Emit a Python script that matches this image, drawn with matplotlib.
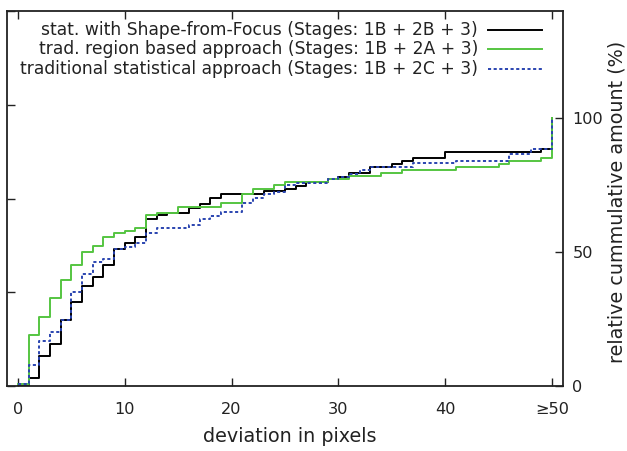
import matplotlib
matplotlib.use('Agg')
import matplotlib.pyplot as plt

# deviation in pixels (50 stands for ">= 50")
deviation = list(range(51))

# relative cumulative amount (%) per method, value holds from x to x+1
sff = [0.0, 3.1, 11.3, 15.7, 24.6, 31.5, 37.3, 40.8, 45.1, 51.1,
       53.5, 55.5, 62.3, 63.7, 64.7, 64.7, 66.6, 68.1, 70.3, 71.5,
       71.5, 71.5, 71.5, 72.7, 72.7, 73.6, 74.8, 76.0, 76.0, 77.2,
       78.2, 79.4, 79.4, 81.8, 81.8, 83.0, 84.1, 85.3, 85.3, 85.3,
       87.4, 87.4, 87.4, 87.4, 87.4, 87.4, 87.4, 87.4, 87.4, 88.5,
       100.0]
region = [0.85, 19.0, 25.9, 32.8, 39.7, 45.3, 50.0, 52.2, 55.5, 57.0,
          57.9, 59.1, 63.7, 64.7, 64.7, 66.9, 66.9, 66.9, 66.9, 68.2,
          68.2, 71.6, 73.7, 73.7, 75.0, 76.0, 76.0, 76.0, 76.0, 77.1,
          77.1, 78.5, 78.5, 78.5, 79.5, 79.5, 80.6, 80.6, 80.6, 80.6,
          80.6, 81.8, 81.8, 81.8, 81.8, 83.0, 84.1, 84.1, 84.1, 85.2,
          100.0]
statistical = [0.85, 7.7, 16.8, 20.3, 24.6, 35.0, 41.7, 46.3, 47.5, 51.1,
               52.0, 53.3, 57.0, 59.1, 59.1, 59.1, 60.2, 62.4, 63.5, 64.8,
               64.8, 68.2, 70.3, 71.5, 72.6, 75.0, 75.9, 75.9, 75.9, 77.1,
               78.2, 79.3, 80.6, 81.7, 81.7, 81.7, 81.7, 83.1, 83.1, 83.1,
               83.1, 84.0, 84.0, 84.0, 84.0, 84.0, 86.5, 86.5, 88.4, 88.4,
               100.0]

labels = ['stat. with Shape-from-Focus (Stages: 1B + 2B + 3)',
          'trad. region based approach (Stages: 1B + 2A + 3)',
          'traditional statistical approach (Stages: 1B + 2C + 3)']
xticks = [0, 10, 20, 30, 40, 50]
xticklabels = ['0', '10', '20', '30', '40', '\u226550']

plt.rcParams['font.family'] = ['DejaVu Sans']
fs_tick = 11.6
fs_key = 12.35
fs_label = 13.8
ink = '#222222'

fig = plt.figure(figsize=(6.27, 4.51), dpi=100)
ax = fig.add_axes([0.0116, 0.1441, 0.8858, 0.8315])

styles = [dict(color='black', lw=1.4, ls='-'),
          dict(color='#55c541', lw=1.4, ls='-'),
          dict(color='#2a44b0', lw=1.4, ls=(0, (1.6, 1.3)))]

for ys, st in zip([sff, region, statistical], styles):
    ax.step(deviation, ys, where='post', **st)

ax.set_xlim(-1, 51)
ax.set_ylim(0, 140)
ax.set_xticks(xticks)
ax.set_xticklabels(xticklabels)
ax.yaxis.tick_right()
ax.yaxis.set_label_position('right')
ax.set_yticks([0, 50, 100])
ax.tick_params(axis='x', direction='in', top=True, length=6, width=1,
               labelsize=fs_tick, pad=11.5, colors=ink)
ax.tick_params(axis='y', direction='in', length=6, width=1,
               labelsize=fs_tick, pad=7, colors=ink)
ax.set_xlabel('deviation in pixels', fontsize=fs_label, color=ink)
ax.xaxis.set_label_coords(0.509, -0.135)
ax.xaxis.label.set_verticalalignment('center')
ax.set_ylabel('relative cummulative amount (%)', fontsize=fs_label, color=ink)
ax.yaxis.set_label_coords(1.098, 0.49)
ax.yaxis.label.set_verticalalignment('center')

# unlabeled ticks on the left border
left = ax.secondary_yaxis('left')
left.set_yticks([0, 35, 70, 105, 140])
left.tick_params(direction='in', length=6, width=1, labelleft=False,
                 colors=ink)
left.spines['left'].set_visible(False)

for sp in ax.spines.values():
    sp.set_linewidth(1.3)
    sp.set_color(ink)

# gnuplot style key: text right aligned, sample line on the right
for i, (lab, st) in enumerate(zip(labels, styles)):
    yk = 0.95 - i * 0.052
    ax.text(0.848, yk, lab, transform=ax.transAxes, ha='right', va='center',
            fontsize=fs_key, color=ink)
    ax.plot([0.866, 0.962], [yk, yk], transform=ax.transAxes, **st)

fig.savefig('out.png', dpi=100)
